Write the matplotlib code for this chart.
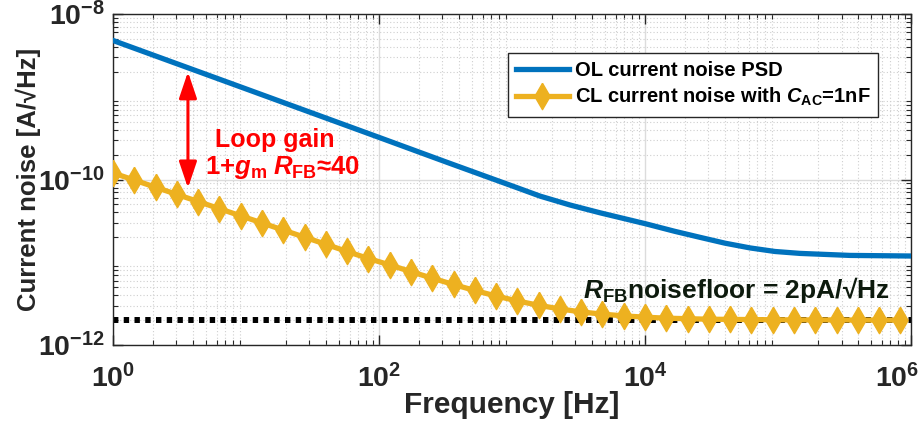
import numpy as np
import matplotlib.pyplot as plt
from matplotlib.ticker import FixedLocator, FuncFormatter
from matplotlib.transforms import ScaledTranslation

plt.rcParams['font.family'] = ['Liberation Sans', 'DejaVu Sans']
plt.rcParams['font.weight'] = 'bold'
plt.rcParams['mathtext.fontset'] = 'custom'
plt.rcParams['mathtext.rm'] = 'Liberation Sans:bold'
plt.rcParams['mathtext.bf'] = 'Liberation Sans:bold'
plt.rcParams['mathtext.it'] = 'Liberation Sans:italic:bold'
plt.rcParams['mathtext.default'] = 'bf'

# Datos
ol_freq = [1, 10, 100, 319, 1000, 1626, 2729, 4592, 1e4, 16830, 25940, 40000,
           61660, 94840, 146200, 347500, 1e6]
ol_noise = [4.79e-9, 1.245e-9, 3.23e-10, 1.63e-10, 8.38e-11, 6.30e-11, 4.92e-11,
            3.96e-11, 2.93e-11, 2.36e-11, 2.00e-11, 1.70e-11, 1.49e-11, 1.35e-11,
            1.28e-11, 1.21e-11, 1.19e-11]

cl_freq = np.logspace(0, 5.92, 38)
cl_noise = [1.20e-10, 9.84e-11, 8.07e-11, 6.61e-11, 5.42e-11, 4.44e-11, 3.64e-11,
            2.99e-11, 2.45e-11, 2.01e-11, 1.65e-11, 1.35e-11, 1.11e-11, 9.30e-12,
            7.70e-12, 6.42e-12, 5.39e-12, 4.56e-12, 3.91e-12, 3.41e-12, 3.02e-12,
            2.73e-12, 2.51e-12, 2.36e-12, 2.25e-12, 2.17e-12, 2.11e-12, 2.08e-12,
            2.05e-12, 2.04e-12, 2.03e-12, 2.02e-12, 2.01e-12, 2.01e-12, 2.01e-12,
            2.00e-12, 2.00e-12, 2.00e-12]

floor_freq = [1, 1e6]
floor_noise = [2e-12, 2e-12]

arrow_freq = 3.66
arrow_top = 2.0e-9
arrow_bottom = 7.9e-11

xticks = [1, 1e2, 1e4, 1e6]
yticks = [1e-12, 1e-10, 1e-8]

fig = plt.figure(figsize=(9.21, 4.25), dpi=100)
ax = fig.add_axes([0.1227, 0.1882, 0.8665, 0.7788])

ax.plot(floor_freq, floor_noise, color='k', lw=4.3, linestyle=(0, (0.9, 0.9)), zorder=2)
ax.plot(ol_freq, ol_noise, color='#0072BD', lw=3.8, label='OL current noise PSD', zorder=3)
diamond = [(0, 1), (0.58, 0), (0, -1), (-0.58, 0), (0, 1)]
ax.plot(cl_freq, cl_noise, color='#EDB120', lw=3.8, marker=diamond, markersize=19,
        markerfacecolor='#EDB120', markeredgecolor='#EDB120',
        label=r'CL current noise with $\mathit{C}_{AC}$=1nF', zorder=4)

ax.set_xscale('log')
ax.set_yscale('log')
ax.set_xlim(1, 1e6)
ax.set_ylim(1e-12, 1e-8)
ax.xaxis.set_major_locator(FixedLocator(xticks))
ax.yaxis.set_major_locator(FixedLocator(yticks))
fmt = FuncFormatter(lambda v, p: r'$\mathbf{10}^{\mathbf{%d}}$' % round(np.log10(v)))
ax.xaxis.set_major_formatter(fmt)
ax.yaxis.set_major_formatter(fmt)

ax.grid(True, which='major', color='#dcdcdc', lw=1, linestyle='-')
ax.grid(True, which='minor', color='#cfcfcf', lw=0.8, linestyle=(0, (1, 2)))
ax.tick_params(which='both', direction='in', top=True, right=True, color='#262626')
ax.tick_params(which='major', length=7, width=1)
ax.tick_params(which='minor', length=3.5, width=0.8)
ax.tick_params(axis='x', which='major', labelsize=20.5, pad=14, labelcolor='#262626')
ax.tick_params(axis='y', which='major', labelsize=20.5, pad=6, labelcolor='#262626')
for s in ax.spines.values():
    s.set_color('#262626')
    s.set_linewidth(1)

fig.canvas.draw()
last = ax.get_xticklabels()[-1]
last.set_ha('right')
last.set_transform(last.get_transform() + ScaledTranslation(0.08, 0, fig.dpi_scale_trans))

ax.set_xlabel('Frequency [Hz]', fontsize=21.5, fontweight='bold', color='#262626')
ax.set_ylabel('Current noise [A/√Hz]', fontsize=18.5, fontweight='bold', color='#262626')
ax.xaxis.set_label_coords(0.5, -0.14)
ax.yaxis.set_label_coords(-0.09, 0.5)

ax.annotate('', xy=(arrow_freq, arrow_top), xytext=(arrow_freq, arrow_bottom),
            arrowprops=dict(arrowstyle='<|-|>,head_length=0.8,head_width=0.27',
                            color='red', lw=2.2, mutation_scale=20,
                            shrinkA=0, shrinkB=0), zorder=5)
ax.text(0.203, 0.619, 'Loop gain', transform=ax.transAxes, color='red',
        fontsize=18, fontweight='bold', ha='center', va='center')
ax.text(0.212, 0.535, r'1+$\mathit{g}_{m}\;\mathit{R}_{FB}$≈40', transform=ax.transAxes,
        color='red', fontsize=18.5, fontweight='bold', ha='center', va='center')
ax.text(0.781, 0.166, r'$\mathit{R}_{FB}$noisefloor = 2pA/√Hz', transform=ax.transAxes,
        color='#0d1a0d', fontsize=19, fontweight='bold', ha='center', va='center')

leg = ax.legend(loc='upper right', bbox_to_anchor=(0.959, 0.882), fontsize=14.5,
                fancybox=False, framealpha=1, edgecolor='#262626', handlelength=2.6,
                handletextpad=0.3, borderaxespad=0, labelspacing=0.3, borderpad=0.4)
leg.get_frame().set_linewidth(1)
for t in leg.get_texts():
    t.set_fontweight('bold')

fig.savefig('out.png', dpi=100)
